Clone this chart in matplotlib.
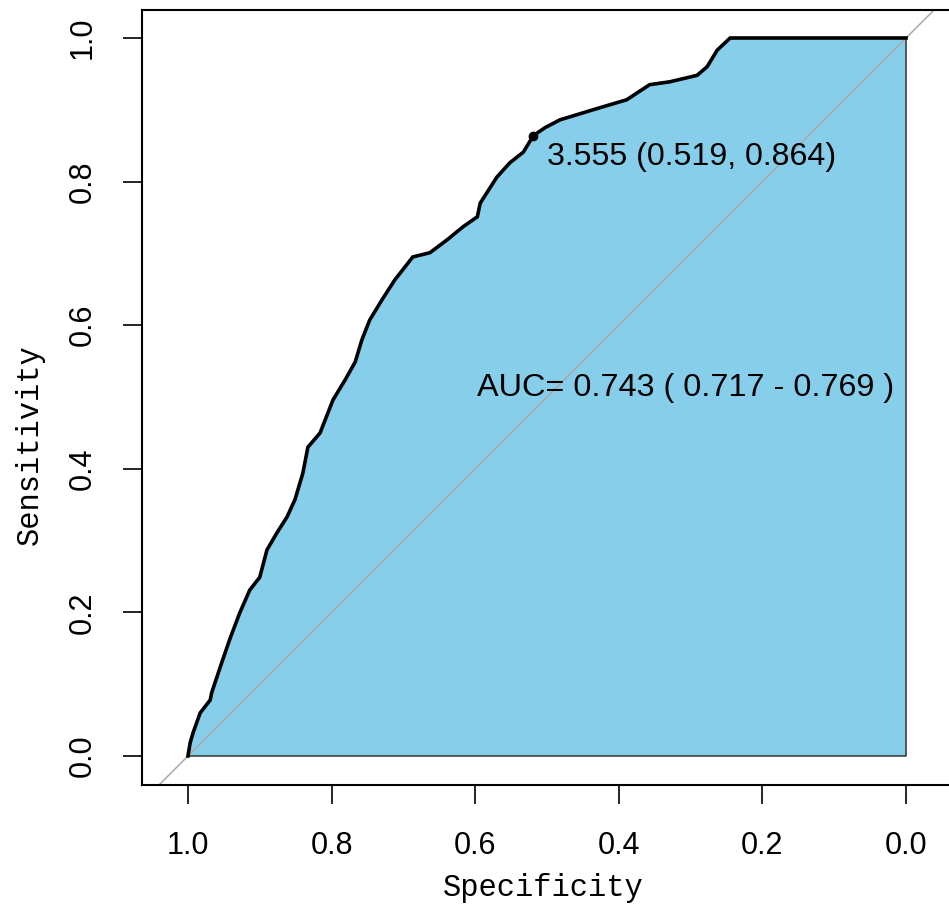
import matplotlib
matplotlib.use('Agg')
import matplotlib.pyplot as plt

# ROC curve (specificity, sensitivity)
specificity = [1.000, 0.997, 0.993, 0.983, 0.969, 0.967, 0.955, 0.942, 0.928, 0.914,
               0.900, 0.890, 0.876, 0.862, 0.851, 0.840, 0.833, 0.816, 0.798, 0.781,
               0.767, 0.758, 0.747, 0.730, 0.712, 0.701, 0.687, 0.663, 0.639, 0.617,
               0.597, 0.593, 0.570, 0.552, 0.533, 0.519, 0.503, 0.482, 0.436, 0.389,
               0.357, 0.329, 0.291, 0.277, 0.263, 0.245, 0.000]
sensitivity = [0.000, 0.018, 0.032, 0.060, 0.078, 0.088, 0.124, 0.162, 0.199, 0.231,
               0.249, 0.287, 0.311, 0.333, 0.357, 0.394, 0.430, 0.450, 0.496, 0.524,
               0.549, 0.579, 0.607, 0.635, 0.663, 0.677, 0.695, 0.701, 0.719, 0.737,
               0.751, 0.770, 0.806, 0.826, 0.841, 0.864, 0.875, 0.886, 0.900, 0.914,
               0.935, 0.939, 0.948, 0.960, 0.983, 1.000, 1.000]

best_thr = 3.555
best_spec = 0.519
best_sens = 0.864
auc_val, auc_lo, auc_hi = 0.743, 0.717, 0.769
ticks = [1.0, 0.8, 0.6, 0.4, 0.2, 0.0]

W, H = 949, 909
fig = plt.figure(figsize=(W / 100, H / 100), dpi=100)
ax = fig.add_axes([142 / W, (H - 785) / H, (952 - 142) / W, (785 - 10) / H])

sans = 'Liberation Sans'
mono = 'Liberation Mono'

# AUC polygon
poly_x = specificity + [0.0, 1.0]
poly_y = sensitivity + [0.0, 0.0]
ax.fill(poly_x, poly_y, facecolor='#87CEEB', edgecolor='#222222', lw=1.0, zorder=1)

# diagonal reference
ax.axline((1, 0), (0, 1), color='#A9A9A9', lw=1.1, zorder=2)

ax.plot(specificity, sensitivity, color='black', lw=2.6, zorder=3,
        solid_joinstyle='miter')
ax.plot([best_spec], [best_sens], 'o', color='black', ms=6, zorder=4)

ax.text(0.50, 0.834, f'{best_thr:.3f} ({best_spec:.3f}, {best_sens:.3f})',
        ha='left', va='center', fontsize=23.1, family=sans, zorder=5)
ax.text(0.597, 0.512, f'AUC= {auc_val:.3f} ( {auc_lo:.3f} - {auc_hi:.3f} )',
        ha='left', va='center', fontsize=23.3, family=sans, zorder=5)

ax.set_xlim(1.064, -0.064)
ax.set_ylim(-0.0404, 1.039)
ax.set_xticks(ticks)
ax.set_yticks(ticks)
ax.set_xticklabels([f'{t:.1f}' for t in ticks], family=sans, fontsize=22)
ax.set_yticklabels([f'{t:.1f}' for t in ticks], family=sans, fontsize=22)
for lab in ax.get_yticklabels():
    lab.set_rotation(90)
    lab.set_va('center')
ax.tick_params(axis='both', length=13.7, width=1.2, color='black')
ax.tick_params(axis='x', pad=19.5)
ax.tick_params(axis='y', pad=18.5)

for s in ['left', 'bottom', 'top']:
    ax.spines[s].set_linewidth(1.5)
    ax.spines[s].set_color('black')
ax.spines['right'].set_visible(False)

fig.text(543 / W, 1 - 888 / H, 'Specificity', ha='center', va='center',
         fontsize=22, family=mono)
fig.text(30 / W, 1 - 445 / H, 'Sensitivity', ha='center', va='center',
         fontsize=22, family=mono, rotation=90)

fig.savefig('out.png', dpi=100)
